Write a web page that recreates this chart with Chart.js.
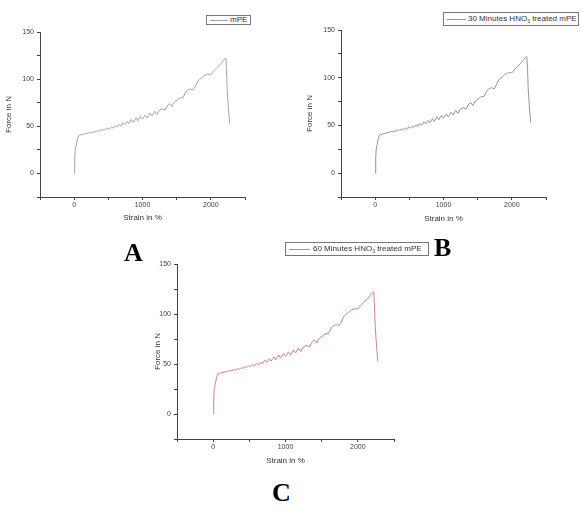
<!DOCTYPE html>
<html>
<head>
<meta charset="utf-8">
<script src="https://cdn.jsdelivr.net/npm/chart.js@4.4.1/dist/chart.umd.min.js"></script>
<style>
  body { margin:0; background:#fff; width:583px; height:512px; position:relative; overflow:hidden; font-family:"Liberation Sans", Arial, sans-serif; }
  canvas { position:absolute; }
  .legend { position:absolute; box-sizing:border-box; border:1px solid #777; background:#fff; font-size:8px; color:#333; white-space:nowrap; }
  .legend .swatch { position:absolute; height:0; border-top:1px solid; }
  .legend .txt { position:absolute; line-height:8px; }
  .legend sub { font-size:5px; line-height:0; vertical-align:-2px; }
  .panel { position:absolute; font-family:"Liberation Serif", "Times New Roman", serif; font-weight:bold; font-size:26px; line-height:26px; color:#000; }
</style>
</head>
<body>
<canvas id="chartA" width="260" height="230" style="left:0px;top:0px"></canvas>
<canvas id="chartB" width="260" height="230" style="left:301px;top:0px"></canvas>
<canvas id="chartC" width="275" height="240" style="left:137px;top:234px"></canvas>

<div class="legend" style="left:206px;top:15px;width:45px;height:10px">
  <span class="swatch" style="left:3px;top:4px;width:18px;border-color:#a4a4a4"></span>
  <span class="txt" style="left:23px;top:0px">mPE</span>
</div>
<div class="legend" style="left:443px;top:12px;width:136px;height:14px">
  <span class="swatch" style="left:3px;top:6px;width:19px;border-color:#9494a2"></span>
  <span class="txt" style="left:24px;top:2px">30 Minutes HNO<sub>3</sub> treated mPE</span>
</div>
<div class="legend" style="left:285px;top:242px;width:144px;height:14px">
  <span class="swatch" style="left:3px;top:6px;width:21px;border-color:#cc8490"></span>
  <span class="txt" style="left:27px;top:2px">60 Minutes HNO<sub>3</sub> treated mPE</span>
</div>

<div class="panel" style="left:124px;top:240px">A</div>
<div class="panel" style="left:434px;top:235px">B</div>
<div class="panel" style="left:272px;top:480px">C</div>

<script>
// Strain (%)
const strain = [0,8,15,30,45,65,100,150,200,240,260,290,310,340,360,390,410,440,460,490,515,545,570,600,625,655,680,715,740,775,800,840,865,905,930,970,1000,1040,1070,1110,1140,1180,1210,1250,1290,1330,1370,1400,1430,1470,1510,1560,1590,1630,1670,1700,1740,1770,1810,1860,1910,1950,2000,2040,2080,2130,2170,2200,2220,2230,2240,2255,2275];

// Force (N) for each sample
const forceMPE = [0,15,25,30,36,40,41,41.8,42.6,43.6,43.2,44.4,44,45.3,44.8,46.2,45.6,47.2,46.4,48.2,47.2,49.3,48,50.6,49,52,50,53.8,51.5,55.3,52.8,57.2,54,59,55.8,60.5,57.5,62,58.8,64,61,66,62.5,67.5,68.5,67,72.5,74,70.8,76,78,80.5,80,86,88.5,89.5,88.5,92,98,101,104,105.2,105,108.5,111.5,115,118.5,121.5,122,110,88,72,53];
const force30 = [0,15,25,30,36,40,41,41.8,42.6,43.6,43.2,44.4,44,45.3,44.8,46.2,45.6,47.2,46.4,48.2,47.2,49.3,48,50.6,49,52,50,53.8,51.5,55.3,52.8,57.2,54,59,55.8,60.5,57.5,62,58.8,64,61,66,62.5,67.5,68.5,67,72.5,74,70.8,76,78,80.5,80,86,88.5,89.5,88.5,92,98,101,104,105.2,105,108.5,111.5,115,118.5,121.5,122,110,88,72,53];
const force60 = [0,15,25,30,36,40,41,41.8,42.6,43.6,43.2,44.4,44,45.3,44.8,46.2,45.6,47.2,46.4,48.2,47.2,49.3,48,50.6,49,52,50,53.8,51.5,55.3,52.8,57.2,54,59,55.8,60.5,57.5,62,58.8,64,61,66,62.5,67.5,68.5,67,72.5,74,70.8,76,78,80.5,80,86,88.5,89.5,88.5,92,98,101,104,105.2,105,108.5,111.5,115,118.5,121.5,122,110,88,72,53];

// Axis ranges and labelled ticks
const xMin = -500, xMax = 2500, xStep = 500, xLabelEvery = 1000;
const yMin = -25, yMax = 150, yStep = 25, yLabelEvery = 50;

const axisColor = '#444';
const tickFont = { family: 'Liberation Sans', size: 7 };
const titleFont = { family: 'Liberation Sans', size: 8 };

function makeChart(id, ys, color, box) {
  const ctx = document.getElementById(id).getContext('2d');
  return new Chart(ctx, {
    type: 'line',
    data: {
      datasets: [{
        data: strain.map((s, i) => ({ x: s, y: ys[i] })),
        borderColor: color, borderWidth: 1, pointRadius: 0, fill: false, tension: 0
      }]
    },
    options: {
      responsive: false,
      animation: false,
      layout: { padding: { left: 0, top: box.top, right: box.right, bottom: box.bottom } },
      plugins: { legend: { display: false }, tooltip: { enabled: false } },
      scales: {
        x: {
          type: 'linear', min: xMin, max: xMax,
          afterFit: s => { s.height = 28; },
          border: { display: true, color: axisColor, width: 1 },
          grid: { drawOnChartArea: false, tickLength: 3, color: axisColor },
          ticks: { stepSize: xStep, maxRotation: 0, autoSkip: false, padding: 1, color: axisColor, font: tickFont,
                   callback: v => (v % xLabelEvery === 0 ? String(v) : '') },
          title: { display: true, text: 'Strain in %', color: '#333', font: titleFont, padding: { top: 0, bottom: box.xTitle } }
        },
        y: {
          type: 'linear', min: yMin, max: yMax,
          afterFit: s => { s.width = 40; },
          border: { display: true, color: axisColor, width: 1 },
          grid: { drawOnChartArea: false, tickLength: 3, color: axisColor },
          ticks: { stepSize: yStep, padding: 3, color: axisColor, font: tickFont,
                   callback: v => (v % yLabelEvery === 0 ? String(v) : '') },
          title: { display: true, text: 'Force in N', color: '#333', font: titleFont, padding: { top: box.yTitle, bottom: 0 } }
        }
      }
    }
  });
}

makeChart('chartA', forceMPE, '#a4a4a4', { top: 32, right: 15, bottom: 5, xTitle: 2.2, yTitle: 4.2 });
makeChart('chartB', force30, '#9494a2', { top: 30, right: 15, bottom: 5, xTitle: 1.2, yTitle: 4.2 });
makeChart('chartC', force60, '#cc8490', { top: 30, right: 18, bottom: 7, xTitle: 1.2, yTitle: 16.2 });
</script>
</body>
</html>
